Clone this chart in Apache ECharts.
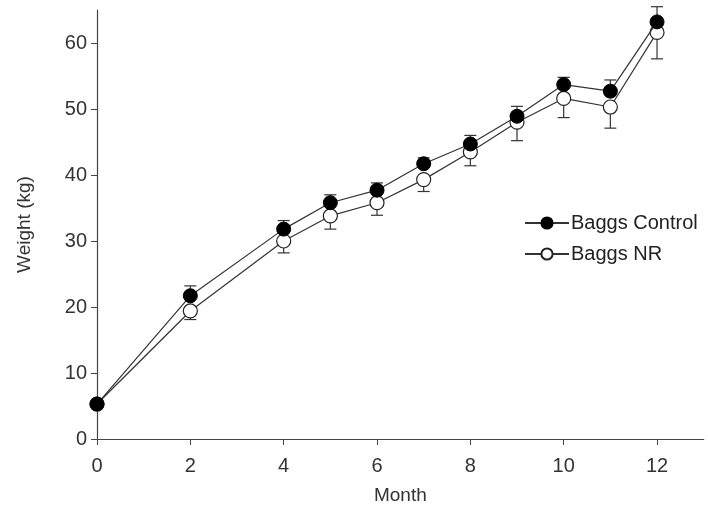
<!DOCTYPE html>
<html>
<head>
<meta charset="utf-8">
<script src="https://cdn.jsdelivr.net/npm/echarts@6/dist/echarts.min.js"></script>
<style>
    html, body { margin: 0; padding: 0; background: #fff; }
    #main { width: 708px; height: 512px; }
</style>
</head>
<body>
<div id="main"></div>
<script>
    // 数据
    var months = [0, 2, 4, 5, 6, 7, 8, 9, 10, 11, 12];
    var controlMean = [5.3, 21.7, 31.8, 35.8, 37.7, 41.7, 44.7, 48.9, 53.7, 52.7, 63.2];
    var controlErr = [0, 1.5, 1.3, 1.2, 1.1, 0.9, 1.3, 1.5, 1.1, 1.7, 2.3];
    var nrMean = [5.3, 19.4, 30.0, 33.8, 35.8, 39.3, 43.5, 48.0, 51.6, 50.3, 61.6];
    var nrErr = [0, 1.3, 1.8, 2.0, 1.9, 1.8, 2.1, 2.8, 2.9, 3.2, 4.0];
    var xTicks = [0, 2, 4, 6, 8, 10, 12];
    var yTicks = [0, 10, 20, 30, 40, 50, 60];

    var labelFont = { fontFamily: 'Liberation Sans', fontSize: 19, color: '#333' };

    function pairs(xs, ys) {
        var out = [];
        for (var i = 0; i < xs.length; i++) out.push([xs[i], ys[i]]);
        return out;
    }
    function errData(xs, ys, es, dir) {
        var out = [];
        for (var i = 0; i < xs.length; i++) {
            if (es[i] > 0) out.push([xs[i], ys[i], ys[i] + dir * es[i]]);
        }
        return out;
    }
    // 误差线
    function renderErr(params, api) {
        var p0 = api.coord([api.value(0), api.value(1)]);
        var p1 = api.coord([api.value(0), api.value(2)]);
        var style = { stroke: '#333', lineWidth: 1.2 };
        return {
            type: 'group',
            children: [
                { type: 'line', shape: { x1: p0[0], y1: p0[1], x2: p1[0], y2: p1[1] }, style: style },
                { type: 'line', shape: { x1: p1[0] - 6, y1: p1[1], x2: p1[0] + 6, y2: p1[1] }, style: style }
            ]
        };
    }

    var chart = echarts.init(document.getElementById('main'), null, { renderer: 'canvas' });
    var option = {
        animation: false,
        backgroundColor: '#fff',
        grid: { left: 97, top: 10, width: 606.7, bottom: 73, containLabel: false, outerBoundsMode: 'none' },
        legend: {
            data: ['Baggs Control', 'Baggs NR'],
            orient: 'vertical',
            left: 519,
            top: 208,
            itemWidth: 44,
            itemHeight: 14,
            itemGap: 11,
            textStyle: { fontFamily: 'Liberation Sans', fontSize: 20, color: '#222', padding: [0, 0, 0, -3] }
        },
        xAxis: {
            type: 'value',
            min: 0,
            max: 13,
            name: 'Month',
            nameLocation: 'middle',
            nameGap: 47,
            nameTextStyle: labelFont,
            splitLine: { show: false },
            axisLine: { onZero: false, lineStyle: { color: '#444', width: 1.2 } },
            axisTick: { customValues: xTicks, length: 6, lineStyle: { color: '#444' } },
            axisLabel: { customValues: xTicks, margin: 17, fontFamily: 'Liberation Sans', fontSize: 20, color: '#333' }
        },
        yAxis: {
            type: 'value',
            min: 0,
            max: 65,
            name: 'Weight (kg)',
            nameLocation: 'middle',
            nameRotate: 90,
            nameGap: 63,
            nameTextStyle: labelFont,
            splitLine: { show: false },
            axisLine: { show: true, onZero: false, lineStyle: { color: '#444', width: 1.2 } },
            axisTick: { show: true, customValues: yTicks, length: 6, lineStyle: { color: '#444' } },
            axisLabel: { customValues: yTicks, margin: 10, fontFamily: 'Liberation Sans', fontSize: 20, color: '#333' }
        },
        series: [{
            name: 'Control err',
            type: 'custom',
            renderItem: renderErr,
            data: errData(months, controlMean, controlErr, 1),
            z: 1
        }, {
            name: 'NR err',
            type: 'custom',
            renderItem: renderErr,
            data: errData(months, nrMean, nrErr, -1),
            z: 1
        }, {
            name: 'Baggs NR',
            type: 'line',
            data: pairs(months, nrMean),
            symbol: 'circle',
            symbolSize: 14,
            lineStyle: { color: '#333', width: 1.2 },
            itemStyle: { color: '#fff', borderColor: '#222', borderWidth: 1.2 },
            z: 3
        }, {
            name: 'Baggs Control',
            type: 'line',
            data: pairs(months, controlMean),
            symbol: 'circle',
            symbolSize: 14,
            lineStyle: { color: '#333', width: 1.2 },
            itemStyle: { color: '#000', borderColor: '#000', borderWidth: 1 },
            z: 4
        }]
    };
    chart.setOption(option);
</script>
</body>
</html>
